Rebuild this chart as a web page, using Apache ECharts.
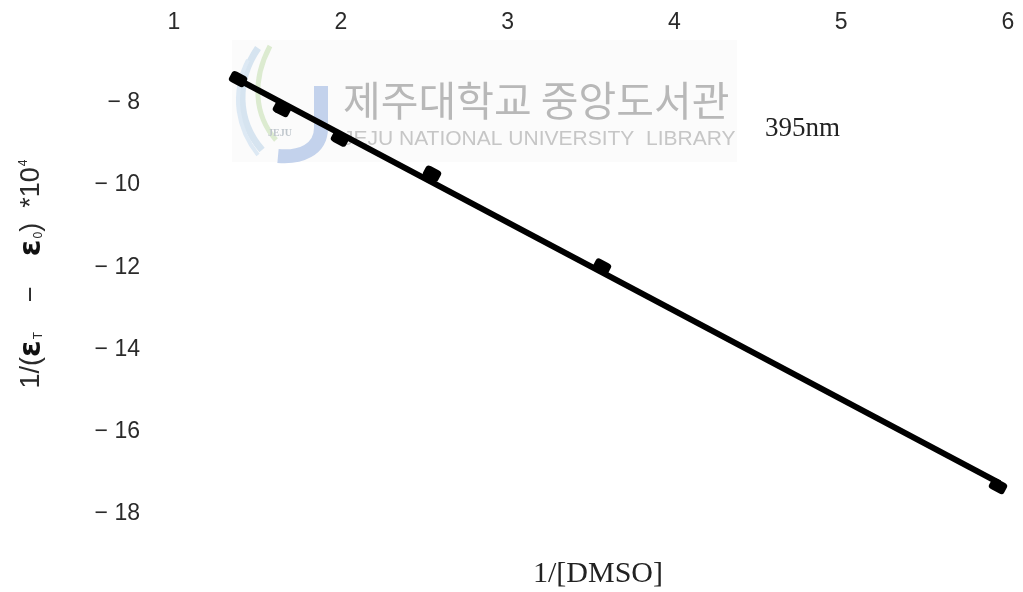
<!DOCTYPE html>
<html>
<head>
<meta charset="utf-8">
<script src="https://cdn.jsdelivr.net/npm/echarts@6/dist/echarts.min.js"></script>
<style>html,body{margin:0;padding:0;background:#fff}#c{width:1023px;height:592px}</style>
</head>
<body>
<div id="c"></div>
<script>
// Data
const xTicks = [1, 2, 3, 4, 5, 6];
const yTicks = [-8, -10, -12, -14, -16, -18];
const invDMSO = [1.384, 1.647, 1.995, 2.547, 3.566, 5.94];
const invEps = [-7.42, -8.15, -8.87, -9.72, -11.98, -17.32];
const fitX = [1.38, 5.95];
const fitY = [-7.42, -17.25];
const xTitle = '1/[DMSO]';
const wavelength = '395nm';

const chart = echarts.init(document.getElementById('c'));
function curve(x1, y1, cx1, cy1, cx2, cy2, x2, y2, color, w) {
  return { type: 'bezierCurve', z: -9,
    shape: { x1: x1, y1: y1, cpx1: cx1, cpy1: cy1, cpx2: cx2, cpy2: cy2, x2: x2, y2: y2 },
    style: { stroke: color, lineWidth: w, fill: null } };
}
const option = {
  backgroundColor: '#fff',
  animation: false,
  grid: { left: 174, right: 15, top: 61.8, bottom: 78 },
  xAxis: {
    type: 'value', position: 'top', min: 1, max: 6, interval: 1,
    axisLine: { show: false }, axisTick: { show: false }, splitLine: { show: false },
    axisLabel: { fontSize: 23, color: '#2a2a2a', margin: 28, fontFamily: 'Liberation Sans',
      formatter: v => xTicks.indexOf(v) >= 0 ? String(v) : '' }
  },
  yAxis: {
    type: 'value', min: -18, max: -7, interval: 2,
    axisLine: { show: false }, axisTick: { show: false }, splitLine: { show: false },
    axisLabel: { fontSize: 23, color: '#2a2a2a', margin: 34, fontFamily: 'Liberation Sans',
      formatter: v => yTicks.indexOf(v) >= 0 ? '− ' + Math.abs(v) : '' }
  },
  graphic: [
    { type: 'rect', z: -10, shape: { x: 232, y: 40, width: 505, height: 122 }, style: { fill: '#fbfbfb' } },
    curve(258, 48, 236, 80, 236, 120, 262, 150, '#d6e4f0', 7),
    curve(270, 46, 252, 80, 254, 115, 276, 140, '#dcebd0', 5),
    curve(248, 60, 230, 95, 238, 130, 258, 155, '#dde9f4', 4),
    { type: 'line', z: -9, shape: { x1: 321, y1: 86, x2: 321, y2: 130 }, style: { stroke: '#c3d2ec', lineWidth: 14 } },
    curve(321, 128, 321, 150, 300, 158, 278, 156, '#c3d2ec', 14),
    { type: 'text', z: -8, left: 268, top: 128, style: { text: 'JEJU', fontSize: 10, fill: '#bfc6cc', fontFamily: 'Liberation Serif', fontWeight: 'bold' } },
    { type: 'text', z: -8, left: 343, top: 80, style: { text: '제주대학교 중앙도서관', fontSize: 41, fill: '#b8b8b8', fontFamily: 'Noto Sans CJK KR' } },
    { type: 'text', z: -8, left: 343, top: 129, style: { text: 'JEJU NATIONAL UNIVERSITY  LIBRARY', fontSize: 21, fill: '#c6c6c6', fontFamily: 'Liberation Sans' } },
    { type: 'text', left: 765, top: 115, style: { text: wavelength, fontSize: 27, fill: '#222', fontFamily: 'Liberation Serif' } },
    { type: 'text', left: 533, top: 559, style: { text: xTitle, fontSize: 30, fill: '#222', fontFamily: 'Liberation Serif' } },
    { type: 'text', x: 32, y: 274, rotation: Math.PI / 2,
      style: {
        text: '1/({e|ε}{s|T}    −    {e|ε}{s|0})  *10{p|4}',
        align: 'center', verticalAlign: 'middle', fontSize: 27, fill: '#2a2a2a', fontFamily: 'Liberation Sans',
        rich: {
          e: { fontSize: 30, fontWeight: 'bold', fill: '#111', fontFamily: 'DejaVu Sans' },
          s: { fontSize: 12, fill: '#2a2a2a', padding: [14, 0, 0, 1] },
          p: { fontSize: 12, fill: '#2a2a2a', padding: [0, 0, 16, 1] }
        }
      } }
  ],
  series: [
    {
      type: 'line', data: fitX.map((x, i) => [x, fitY[i]]), showSymbol: false, z: 2,
      lineStyle: { color: '#000', width: 6 }
    },
    {
      type: 'scatter', data: invDMSO.map((x, i) => [x, invEps[i]]), z: 3,
      symbol: 'roundRect', symbolSize: [17, 12], symbolRotate: -28,
      itemStyle: { color: '#000', opacity: 1 }
    }
  ]
};
chart.setOption(option);
</script>
</body>
</html>
